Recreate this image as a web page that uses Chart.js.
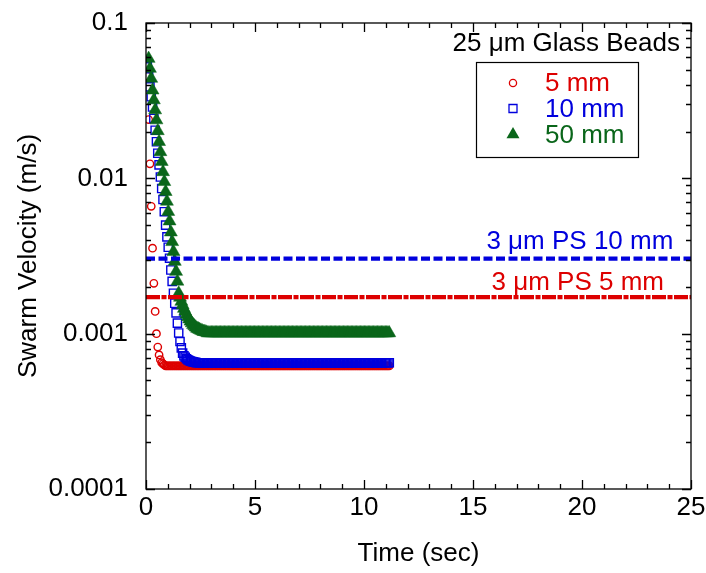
<!DOCTYPE html>
<html>
<head>
<meta charset="utf-8">
<script src="https://cdn.jsdelivr.net/npm/chart.js@4.4.1/dist/chart.umd.min.js"></script>
<style>
  html, body { margin: 0; padding: 0; background: #fff; }
  #wrap { width: 706px; height: 573px; }
</style>
</head>
<body>
<div id="wrap"><canvas id="c" width="706" height="573"></canvas></div>
<script>
// ---------------- DATA ----------------
const seriesNames = ['5 mm', '10 mm', '50 mm'];
const chartTitle = '25 \u03bcm Glass Beads';
const xAxisTitle = 'Time (sec)';
const yAxisTitle = 'Swarm Velocity (m/s)';
const xTickValues = [0, 5, 10, 15, 20, 25];
const xTickLabels = ['0', '5', '10', '15', '20', '25'];
const yTickValues = [0.0001, 0.001, 0.01, 0.1];
const yTickLabels = ['0.0001', '0.001', '0.01', '0.1'];

// time of each frame (s)
const times = [
0.06,0.12,0.18,0.24,0.30,0.36,0.42,0.48,0.54,0.60,
0.66,0.72,0.78,0.84,0.90,0.96,1.02,1.08,1.14,1.20,
1.26,1.32,1.38,1.44,1.50,1.56,1.62,1.68,1.74,1.80,
1.86,1.92,1.98,2.04,2.10,2.16,2.22,2.28,2.34,2.40,
2.46,2.52,2.58,2.64,2.70,2.76,2.82,2.88,2.94,3.00,
3.06,3.12,3.18,3.24,3.30,3.36,3.42,3.48,3.54,3.60,
3.66,3.72,3.78,3.84,3.90,3.96,4.02,4.08,4.14,4.20,
4.26,4.32,4.38,4.44,4.50,4.56,4.62,4.68,4.74,4.80,
4.86,4.92,4.98,5.04,5.10,5.16,5.22,5.28,5.34,5.40,
5.46,5.52,5.58,5.64,5.70,5.76,5.82,5.88,5.94,6.00,
6.06,6.12,6.18,6.24,6.30,6.36,6.42,6.48,6.54,6.60,
6.66,6.72,6.78,6.84,6.90,6.96,7.02,7.08,7.14,7.20,
7.26,7.32,7.38,7.44,7.50,7.56,7.62,7.68,7.74,7.80,
7.86,7.92,7.98,8.04,8.10,8.16,8.22,8.28,8.34,8.40,
8.46,8.52,8.58,8.64,8.70,8.76,8.82,8.88,8.94,9.00,
9.06,9.12,9.18,9.24,9.30,9.36,9.42,9.48,9.54,9.60,
9.66,9.72,9.78,9.84,9.90,9.96,10.02,10.08,10.14,10.20,
10.26,10.32,10.38,10.44,10.50,10.56,10.62,10.68,10.74,10.80,
10.86,10.92,10.98,11.04,11.10,11.16
];

// 5 mm swarm velocity (m/s)
const v5mm = [
0.0455,0.0239,0.0124,0.0066,0.00355,0.00211,0.00139,0.00100,0.00082,0.00073,
0.00068,0.00065,0.00064,0.00063,0.00062,0.00062,0.00062,0.00062,0.00062,0.00062,
0.00062,0.00062,0.00062,0.00062,0.00062,0.00062,0.00062,0.00062,0.00062,0.00062,
0.00062,0.00062,0.00062,0.00062,0.00062,0.00062,0.00062,0.00062,0.00062,0.00062,
0.00062,0.00062,0.00062,0.00062,0.00062,0.00062,0.00062,0.00062,0.00062,0.00062,
0.00062,0.00062,0.00062,0.00062,0.00062,0.00062,0.00062,0.00062,0.00062,0.00062,
0.00062,0.00062,0.00062,0.00062,0.00062,0.00062,0.00062,0.00062,0.00062,0.00062,
0.00062,0.00062,0.00062,0.00062,0.00062,0.00062,0.00062,0.00062,0.00062,0.00062,
0.00062,0.00062,0.00062,0.00062,0.00062,0.00062,0.00062,0.00062,0.00062,0.00062,
0.00062,0.00062,0.00062,0.00062,0.00062,0.00062,0.00062,0.00062,0.00062,0.00062,
0.00062,0.00062,0.00062,0.00062,0.00062,0.00062,0.00062,0.00062,0.00062,0.00062,
0.00062,0.00062,0.00062,0.00062,0.00062,0.00062,0.00062,0.00062,0.00062,0.00062,
0.00062,0.00062,0.00062,0.00062,0.00062,0.00062,0.00062,0.00062,0.00062,0.00062,
0.00062,0.00062,0.00062,0.00062,0.00062,0.00062,0.00062,0.00062,0.00062,0.00062,
0.00062,0.00062,0.00062,0.00062,0.00062,0.00062,0.00062,0.00062,0.00062,0.00062,
0.00062,0.00062,0.00062,0.00062,0.00062,0.00062,0.00062,0.00062,0.00062,0.00062,
0.00062,0.00062,0.00062,0.00062,0.00062,0.00062,0.00062,0.00062,0.00062,0.00062,
0.00062,0.00062,0.00062,0.00062,0.00062,0.00062,0.00062,0.00062,0.00062,0.00062,
0.00062,0.00062,0.00062,0.00062,0.00062,0.00062
];

// 10 mm swarm velocity (m/s)
const v10mm = [
0.0522,0.0450,0.0388,0.0335,0.0288,0.0243,0.0204,0.0172,0.0145,0.0122,
0.0102,0.0086,0.0073,0.0061,0.0050,0.0042,0.0036,0.00306,0.00257,0.00217,
0.00182,0.00157,0.00136,0.00117,0.00101,0.00089,0.00081,0.00075,0.00072,0.000705,
0.00069,0.00068,0.000672,0.000666,0.000662,0.000658,0.000655,0.000653,0.00065,0.00065,
0.00065,0.00065,0.00065,0.00065,0.00065,0.00065,0.00065,0.00065,0.00065,0.00065,
0.00065,0.00065,0.00065,0.00065,0.00065,0.00065,0.00065,0.00065,0.00065,0.00065,
0.00065,0.00065,0.00065,0.00065,0.00065,0.00065,0.00065,0.00065,0.00065,0.00065,
0.00065,0.00065,0.00065,0.00065,0.00065,0.00065,0.00065,0.00065,0.00065,0.00065,
0.00065,0.00065,0.00065,0.00065,0.00065,0.00065,0.00065,0.00065,0.00065,0.00065,
0.00065,0.00065,0.00065,0.00065,0.00065,0.00065,0.00065,0.00065,0.00065,0.00065,
0.00065,0.00065,0.00065,0.00065,0.00065,0.00065,0.00065,0.00065,0.00065,0.00065,
0.00065,0.00065,0.00065,0.00065,0.00065,0.00065,0.00065,0.00065,0.00065,0.00065,
0.00065,0.00065,0.00065,0.00065,0.00065,0.00065,0.00065,0.00065,0.00065,0.00065,
0.00065,0.00065,0.00065,0.00065,0.00065,0.00065,0.00065,0.00065,0.00065,0.00065,
0.00065,0.00065,0.00065,0.00065,0.00065,0.00065,0.00065,0.00065,0.00065,0.00065,
0.00065,0.00065,0.00065,0.00065,0.00065,0.00065,0.00065,0.00065,0.00065,0.00065,
0.00065,0.00065,0.00065,0.00065,0.00065,0.00065,0.00065,0.00065,0.00065,0.00065,
0.00065,0.00065,0.00065,0.00065,0.00065,0.00065,0.00065,0.00065,0.00065,0.00065,
0.00065,0.00065,0.00065,0.00065,0.00065,0.00065
];

// 50 mm swarm velocity (m/s)
const v50mm = [
null,0.0590,0.0509,0.0439,0.0369,0.0319,0.0275,0.0237,0.0202,0.0172,
0.0148,0.0128,0.0110,0.0095,0.0082,0.0071,0.0061,0.0053,0.0045,0.0039,
0.00337,0.00291,0.00251,0.00217,0.00182,0.00171,0.00161,0.00153,0.00145,0.00139,
0.00133,0.00128,0.00124,0.00120,0.00117,0.00114,0.00112,0.00110,0.00108,0.00107,
0.00106,0.00105,0.00104,0.00103,0.00103,0.00102,0.00101,0.00101,0.00101,0.00101,
0.00101,0.00101,0.00101,0.00101,0.00101,0.00101,0.00101,0.00101,0.00101,0.00101,
0.00101,0.00101,0.00101,0.00101,0.00101,0.00101,0.00101,0.00101,0.00101,0.00101,
0.00101,0.00101,0.00101,0.00101,0.00101,0.00101,0.00101,0.00101,0.00101,0.00101,
0.00101,0.00101,0.00101,0.00101,0.00101,0.00101,0.00101,0.00101,0.00101,0.00101,
0.00101,0.00101,0.00101,0.00101,0.00101,0.00101,0.00101,0.00101,0.00101,0.00101,
0.00101,0.00101,0.00101,0.00101,0.00101,0.00101,0.00101,0.00101,0.00101,0.00101,
0.00101,0.00101,0.00101,0.00101,0.00101,0.00101,0.00101,0.00101,0.00101,0.00101,
0.00101,0.00101,0.00101,0.00101,0.00101,0.00101,0.00101,0.00101,0.00101,0.00101,
0.00101,0.00101,0.00101,0.00101,0.00101,0.00101,0.00101,0.00101,0.00101,0.00101,
0.00101,0.00101,0.00101,0.00101,0.00101,0.00101,0.00101,0.00101,0.00101,0.00101,
0.00101,0.00101,0.00101,0.00101,0.00101,0.00101,0.00101,0.00101,0.00101,0.00101,
0.00101,0.00101,0.00101,0.00101,0.00101,0.00101,0.00101,0.00101,0.00101,0.00101,
0.00101,0.00101,0.00101,0.00101,0.00101,0.00101,0.00101,0.00101,0.00101,0.00101,
0.00101,0.00101,0.00101,0.00101,0.00101,0.00101
];

// Reference levels: 3 um PS swarms
const refLineLabels = ['3 \u03bcm PS 10 mm', '3 \u03bcm PS 5 mm'];
const refLineValues = [0.00304, 0.00172];
const refLineX = [0, 25];

// ---------------- STYLE ----------------
const FONT = "'Liberation Sans', Arial, Helvetica, sans-serif";
const FS = 26;
const RED = '#dd0000', BLUE = '#0000dd', GREEN = '#0a661a';
Chart.defaults.font.family = FONT;
Chart.defaults.font.size = FS;
Chart.defaults.color = '#000';

function pts(vals) {
  const out = [];
  const n = Math.min(times.length, vals.length);
  for (let i = 0; i < n; i++) if (vals[i] !== null) out.push({ x: times[i], y: vals[i] });
  return out;
}
function refPts(v) { return refLineX.map(x => ({ x: x, y: v })); }

const overlay = {
  id: 'overlay',
  afterDraw(chart) {
    const { ctx, chartArea: a, scales } = chart;
    const xs = scales.x, ys = scales.y;
    ctx.save();
    // frame
    ctx.strokeStyle = '#000';
    ctx.lineWidth = 1.3;
    ctx.strokeRect(a.left, a.top, a.right - a.left, a.bottom - a.top);
    ctx.beginPath();
    // x ticks (inward, bottom and top)
    for (let v = 0; v <= 25; v += 1) {
      const p = Math.round(xs.getPixelForValue(v)) + 0.5;
      const len = v % 5 === 0 ? 9 : 5;
      ctx.moveTo(p, a.bottom); ctx.lineTo(p, a.bottom - len);
      ctx.moveTo(p, a.top); ctx.lineTo(p, a.top + len);
    }
    // y ticks (inward, left and right)
    for (let e = -4; e <= -1; e++) {
      for (let m = 1; m <= 9; m++) {
        if (e === -1 && m > 1) break;
        const v = m * Math.pow(10, e);
        const p = Math.round(ys.getPixelForValue(v)) + 0.5;
        const len = m === 1 ? 9 : 5;
        ctx.moveTo(a.left, p); ctx.lineTo(a.left + len, p);
        ctx.moveTo(a.right, p); ctx.lineTo(a.right - len, p);
      }
    }
    ctx.stroke();

    // labels for reference lines
    ctx.font = FS + 'px ' + FONT;
    ctx.textAlign = 'right';
    ctx.textBaseline = 'alphabetic';
    const lblX = [24.19, 23.76];
    const lblDy = [10, 6.7];
    const lblCol = [BLUE, RED];
    refLineLabels.forEach((t, i) => {
      ctx.fillStyle = lblCol[i];
      ctx.fillText(t, xs.getPixelForValue(lblX[i]), ys.getPixelForValue(refLineValues[i]) - lblDy[i]);
    });

    // title inside plot
    ctx.fillStyle = '#000';
    ctx.fillText(chartTitle, a.right - 11, a.top + 28);

    // legend box
    const bx = 476, by = 62, bw = 162, bh = 95;
    ctx.lineWidth = 1.2;
    ctx.strokeStyle = '#000';
    ctx.strokeRect(bx + 0.5, by + 0.5, bw, bh);
    const rowsY = [83, 108.5, 134.5];
    const mx = 513, tx = 545;
    const cols = [RED, BLUE, GREEN];
    ctx.textAlign = 'left';
    ctx.textBaseline = 'middle';
    seriesNames.forEach((name, i) => {
      const yy = rowsY[i];
      ctx.strokeStyle = cols[i];
      ctx.fillStyle = cols[i];
      ctx.lineWidth = 1.3;
      ctx.beginPath();
      if (i === 0) {
        ctx.arc(mx, yy, 3.6, 0, Math.PI * 2);
        ctx.stroke();
      } else if (i === 1) {
        ctx.rect(mx - 4, yy - 4, 8, 8);
        ctx.stroke();
      } else {
        const r = 7.5;
        ctx.moveTo(mx, yy - r);
        ctx.lineTo(mx + r * Math.sin(2 * Math.PI / 3), yy - r * Math.cos(2 * Math.PI / 3));
        ctx.lineTo(mx + r * Math.sin(4 * Math.PI / 3), yy - r * Math.cos(4 * Math.PI / 3));
        ctx.closePath();
        ctx.fill();
      }
      ctx.fillText(name, tx, yy + 1);
    });
    ctx.restore();
  }
};

new Chart(document.getElementById('c'), {
  type: 'scatter',
  data: {
    datasets: [
      { label: refLineLabels[0], data: refPts(refLineValues[0]), showLine: true, pointRadius: 0,
        borderColor: BLUE, borderWidth: 4.2, borderDash: [9, 3.5], order: 0 },
      { label: refLineLabels[1], data: refPts(refLineValues[1]), showLine: true, pointRadius: 0,
        borderColor: RED, borderWidth: 4.2, borderDash: [14, 1.5, 5, 1.5], order: 0 },
      { label: seriesNames[2], data: pts(v50mm), showLine: false, pointStyle: 'triangle', pointRadius: 7.5,
        pointBackgroundColor: GREEN, pointBorderColor: GREEN, pointBorderWidth: 0.5, order: 1 },
      { label: seriesNames[1], data: pts(v10mm), showLine: false, pointStyle: 'rect', pointRadius: 5.8,
        pointBackgroundColor: 'rgba(0,0,0,0)', pointBorderColor: BLUE, pointBorderWidth: 1.4, order: 2 },
      { label: seriesNames[0], data: pts(v5mm), showLine: false, pointStyle: 'circle', pointRadius: 3.7,
        pointBackgroundColor: 'rgba(0,0,0,0)', pointBorderColor: RED, pointBorderWidth: 1.4, order: 3 }
    ]
  },
  options: {
    responsive: false,
    animation: false,
    events: [],
    layout: { padding: { top: 23, right: 15, left: 0, bottom: 0 } },
    plugins: { legend: { display: false }, tooltip: { enabled: false }, title: { display: false } },
    scales: {
      x: {
        type: 'linear', position: 'bottom', min: 0, max: 25,
        grid: { display: false, drawTicks: false }, border: { display: false },
        afterBuildTicks: s => { s.ticks = xTickValues.map(v => ({ value: v })); },
        ticks: { padding: 3, color: '#000', font: { size: FS }, maxRotation: 0, autoSkip: false,
                 callback: (v, i) => xTickLabels[i] },
        title: { display: true, text: xAxisTitle, color: '#000', font: { size: FS }, padding: { top: 0, bottom: 4 } },
        afterFit: s => { s.height = 84; s.paddingLeft = 0; s.paddingRight = 0; }
      },
      y: {
        type: 'logarithmic', position: 'left', min: 0.0001, max: 0.1,
        grid: { display: false, drawTicks: false }, border: { display: false },
        afterBuildTicks: s => { s.ticks = yTickValues.map(v => ({ value: v })); },
        ticks: { padding: 18, color: '#000', font: { size: FS }, autoSkip: false,
                 callback: (v, i) => yTickLabels[i] },
        title: { display: true, text: yAxisTitle, color: '#000', font: { size: FS }, padding: { top: 13, bottom: 0 } },
        afterFit: s => { s.width = 146; s.paddingTop = 0; s.paddingBottom = 0; }
      }
    }
  },
  plugins: [overlay]
});
</script>
</body>
</html>
